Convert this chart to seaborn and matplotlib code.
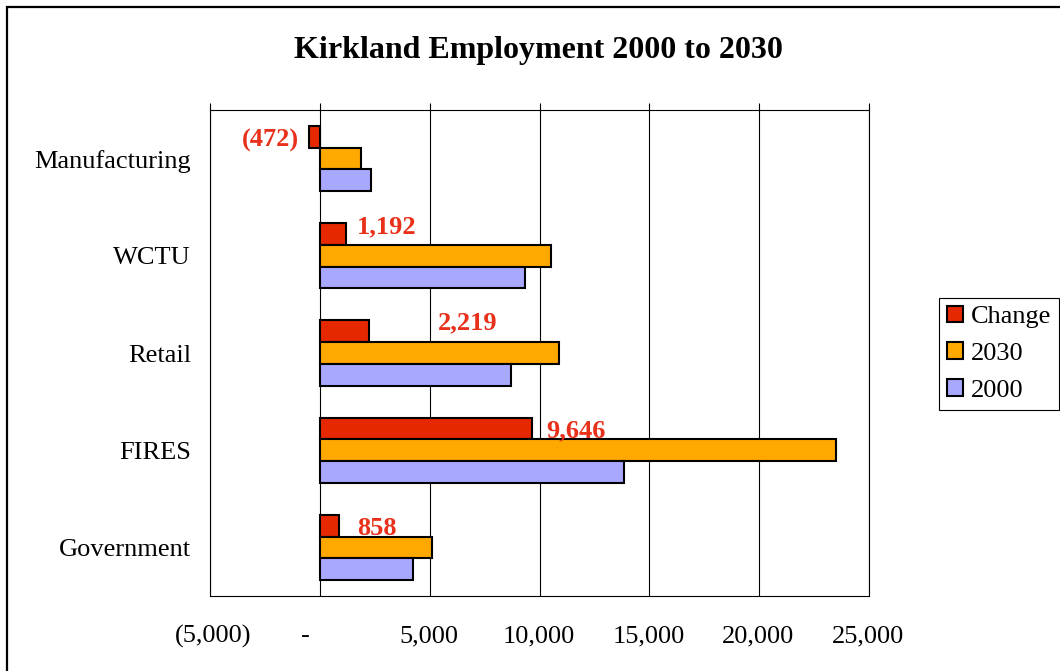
import matplotlib
matplotlib.use("Agg")
import matplotlib.pyplot as plt
import matplotlib.transforms as mtransforms
from matplotlib.patches import Rectangle
import numpy as np
import pandas as pd
import seaborn as sns

# Employment by sector
sectors = ["Manufacturing", "WCTU", "Retail", "FIRES", "Government"]
jobs_2000 = [2352, 9318, 8686, 13844, 4232]
jobs_2030 = [1880, 10510, 10905, 23490, 5090]
change = [-472, 1192, 2219, 9646, 858]

series_order = ["Change", "2030", "2000"]
series_colors = ["#E62800", "#FFA800", "#A8A8FF"]

x_ticks = [-5000, 0, 5000, 10000, 15000, 20000, 25000]
x_tick_labels = ["(5,000)", "-", "5,000", "10,000", "15,000", "20,000", "25,000"]

# label placement (pixels) relative to the end of each change bar
label_dx = [-10.6, 11, 69, 14.5, 18]
label_dy = [-1, 10, 11, 0, 0]

df = pd.DataFrame({
    "sector": sectors * 3,
    "series": ["Change"] * 5 + ["2030"] * 5 + ["2000"] * 5,
    "value": change + jobs_2030 + jobs_2000,
})

sns.set_theme(style="white")
plt.rcParams["font.family"] = ["Liberation Serif", "DejaVu Serif"]
plt.rcParams["text.color"] = "black"
plt.rcParams["xtick.color"] = "black"
plt.rcParams["ytick.color"] = "black"
plt.rcParams["axes.labelcolor"] = "black"

W, H = 1060, 671
fig = plt.figure(figsize=(W / 100, H / 100), dpi=100)
ax = fig.add_axes([210 / W, 1 - 596 / H, (869 - 210) / W, (596 - 110) / H])

sns.barplot(data=df, y="sector", x="value", hue="series", order=sectors,
            hue_order=series_order, palette=series_colors, orient="h",
            width=0.67, edgecolor="black", linewidth=1.5, saturation=1,
            ax=ax, zorder=3)

ax.set_xlim(-5000, 25000)
ax.set_ylim(4.5, -0.5)
ax.set_xticks(x_ticks)
ax.set_xticklabels(x_tick_labels)
ax.set_xlabel("")
ax.set_ylabel("")
ax.grid(axis="x", color="black", linewidth=0.8, zorder=0)
ax.grid(axis="y", visible=False)
for sp in ax.spines.values():
    sp.set_visible(True)
    sp.set_color("black")
    sp.set_linewidth(0.8)

ax.tick_params(axis="x", bottom=False, top=True, labelbottom=True, labeltop=False,
               direction="out", length=5, width=0.8, color="black",
               labelcolor="black", labelsize=19, pad=16)
ax.tick_params(axis="y", left=False, length=0, labelsize=19, pad=13.7,
               labelcolor="black")

# shift the zero label left, as with accounting number format
for lbl, shift in zip(ax.get_xticklabels(), [3, -14, -1, -1, -1, -1, -1]):
    lbl.set_transform(lbl.get_transform() +
                      mtransforms.ScaledTranslation(shift / 100, 0, fig.dpi_scale_trans))

# data labels for the change bars
for i, v in enumerate(change):
    text = f"({abs(v):,})" if v < 0 else f"{v:,}"
    ax.annotate(text, xy=(v, i - 0.67 / 3), xytext=(label_dx[i], label_dy[i] - 8.9),
                textcoords="offset pixels", ha="right" if v < 0 else "left",
                va="baseline", fontsize=19, fontweight="bold", color="#E8301A",
                zorder=5)

# legend
handles, labels = ax.get_legend_handles_labels()
ax.get_legend().remove()
leg = ax.legend(handles, labels, loc="upper left",
                bbox_to_anchor=(939.3 / W, 1 - 297.7 / H),
                bbox_transform=fig.transFigure, borderaxespad=0,
                fontsize=19, handlelength=0.6, handleheight=0.6,
                handletextpad=0.3, borderpad=0.3, labelspacing=0.53,
                fancybox=False, framealpha=1, edgecolor="black")
leg.get_frame().set_linewidth(0.8)
for t in leg.get_texts():
    t.set_color("black")

fig.text(538.4 / W, 1 - 58.3 / H, "Kirkland Employment 2000 to 2030",
         ha="center", va="baseline", fontsize=23, fontweight="bold", color="black")

# outer chart border
fig.add_artist(Rectangle((7 / W, -0.1), 1.2, 1.1 - 6.5 / H, transform=fig.transFigure,
                         fill=False, edgecolor="black", linewidth=1.6))

fig.savefig("out.png", dpi=100, facecolor="white")
